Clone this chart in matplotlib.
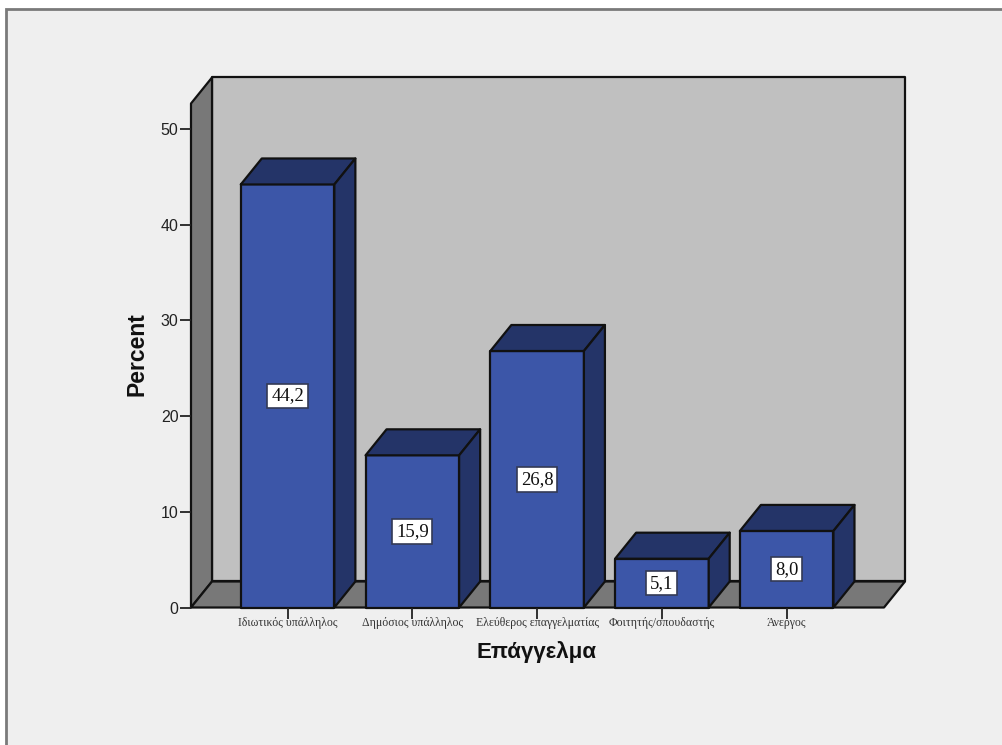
import matplotlib
matplotlib.use("Agg")
from matplotlib import pyplot as plt
from matplotlib.patches import Polygon, Rectangle

categories = ["Ιδιωτικός υπάλληλος", "Δημόσιος υπάλληλος", "Ελεύθερος επαγγελματίας",
              "Φοιτητής/σπουδαστής", "Άνεργος"]
percent = [44.2, 15.9, 26.8, 5.1, 8.0]
percent_labels = ["44,2", "15,9", "26,8", "5,1", "8,0"]
y_ticks = [0, 10, 20, 30, 40, 50]

W, H = 1003, 745

BAR_FACE = "#3c56a8"
BAR_DARK = "#243468"
WALL_BACK = "#c0c0c0"
WALL_SIDE = "#787878"
EDGE = "#111111"

# depth offset of the 3D box, in data units
DX = 21 / 124.75
DY = 26 / 9.57
BAR_W = 0.75
X0, X1 = -0.774, 4.78
Y_TOP = 52.66


def box_poly(ax, pts, face):
    ax.add_patch(Polygon(pts, closed=True, facecolor=face, edgecolor=EDGE,
                         linewidth=1.6, joinstyle="round", clip_on=False))


def draw_bar(ax, x, h):
    l, r = x - BAR_W / 2, x + BAR_W / 2
    box_poly(ax, [(l, 0), (r, 0), (r, h), (l, h)], BAR_FACE)
    box_poly(ax, [(l, h), (r, h), (r + DX, h + DY), (l + DX, h + DY)], BAR_DARK)
    box_poly(ax, [(r, 0), (r + DX, DY), (r + DX, h + DY), (r, h)], BAR_DARK)


fig = plt.figure(figsize=(W / 100, H / 100), dpi=100, facecolor="white")

# window panel behind the chart
fig.patches.append(Rectangle((6 / W, -0.01), 1.01, 1 - 9 / H + 0.01, transform=fig.transFigure,
                             facecolor="#efefef", edgecolor="#7a7a7a", linewidth=2, zorder=-1))

ax = fig.add_axes([191 / W, 1 - 607.5 / H, 693 / W, 504 / H])
ax.set_xlim(X0, X1)
ax.set_ylim(0, Y_TOP)
ax.patch.set_visible(False)
for s in ax.spines.values():
    s.set_visible(False)

# back wall, left wall, floor
box_poly(ax, [(X0 + DX, DY), (X1 + DX, DY), (X1 + DX, Y_TOP + DY), (X0 + DX, Y_TOP + DY)], WALL_BACK)
box_poly(ax, [(X0, 0), (X0 + DX, DY), (X0 + DX, Y_TOP + DY), (X0, Y_TOP)], WALL_SIDE)
box_poly(ax, [(X0, 0), (X1, 0), (X1 + DX, DY), (X0 + DX, DY)], WALL_SIDE)

for i, (v, lab) in enumerate(zip(percent, percent_labels)):
    draw_bar(ax, i, v)
    ax.text(i, v / 2, lab, ha="center", va="center", fontsize=13.5, color="#111111",
            family="Liberation Serif", zorder=5,
            bbox=dict(boxstyle="square,pad=0.2", facecolor="white", edgecolor="#333a55", linewidth=1.2))

ax.set_yticks(y_ticks)
ax.set_yticklabels([str(t) for t in y_ticks], fontsize=11.5, family="Liberation Sans", color="#222222")
ax.set_xticks(range(len(categories)))
ax.set_xticklabels(categories, fontsize=8.5, family="Liberation Serif", color="#333333")
ax.tick_params(axis="y", length=8, width=1.3, pad=1, color="#222222")
ax.tick_params(axis="x", length=8, width=1.3, pad=-1.5, color="#222222")

fig.text(137 / W, 1 - 354 / H, "Percent", rotation=90, ha="center", va="center",
         fontsize=16.5, fontweight="bold", family="Liberation Sans", color="#111111")
fig.text(537 / W, 1 - 652 / H, "Επάγγελμα", ha="center", va="center",
         fontsize=16, fontweight="bold", family="Liberation Sans", color="#111111")

fig.savefig("out.png", dpi=100)
plt.close(fig)
